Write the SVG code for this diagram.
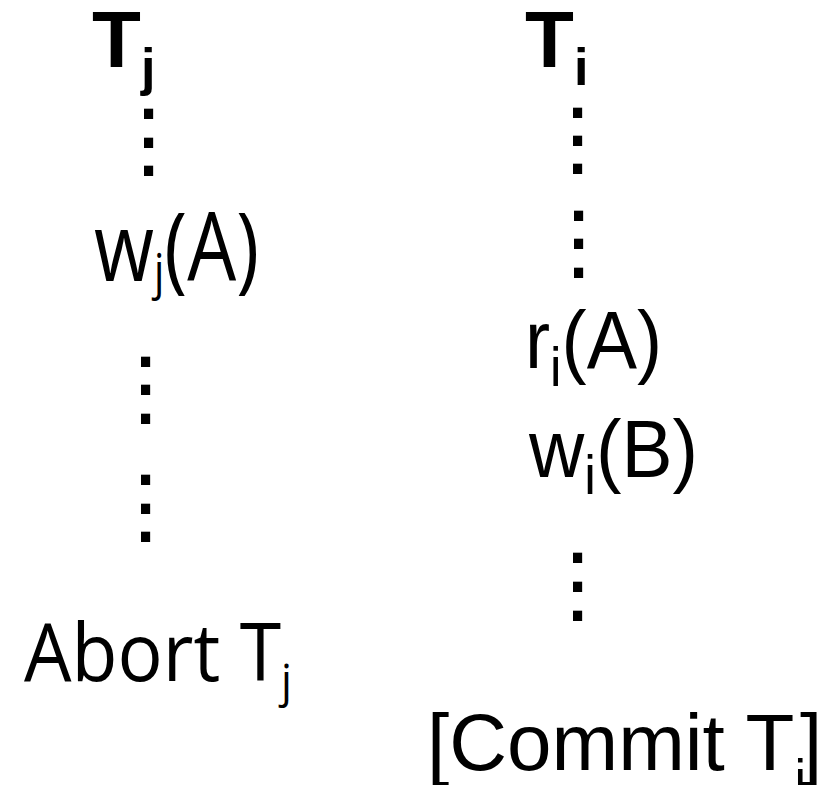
<svg xmlns="http://www.w3.org/2000/svg" width="828" height="785" viewBox="0 0 828 785">
<style>
  text { fill: #000; }
  .hd { font-family: "Liberation Sans", Arial, sans-serif; font-weight: bold; font-size: 80px; }
  .hs { font-size: 52px; }
  .lt { font-family: "Open Sans", "Liberation Sans", sans-serif; }
  .rt { font-family: "Liberation Sans", Arial, sans-serif; }
  .dot { font-family: "Liberation Sans", Arial, sans-serif; font-size: 96px; }
</style>
<rect width="828" height="785" fill="#fff"/>

<g id="tj-header"><text class="hd" x="92" y="67">T<tspan class="hs" dy="18">j</tspan></text></g>
<g id="ti-header"><text class="hd" x="525" y="67">T<tspan class="hs" dy="18">i</tspan></text></g>

<g id="tj-dots-1"><text class="dot"><tspan x="135.3" y="119">.</tspan><tspan x="135.3" y="147.5">.</tspan><tspan x="135.3" y="176">.</tspan></text></g>
<g id="wjA"><text class="lt" x="94" y="281" font-size="95" textLength="165" lengthAdjust="spacingAndGlyphs">w<tspan font-size="50" dy="8">j</tspan><tspan dy="-8">(A)</tspan></text></g>
<g id="tj-dots-2"><text class="dot"><tspan x="132.3" y="367">.</tspan><tspan x="132.3" y="395">.</tspan><tspan x="132.3" y="424">.</tspan></text></g>
<g id="tj-dots-3"><text class="dot"><tspan x="132.3" y="485">.</tspan><tspan x="132.3" y="514">.</tspan><tspan x="132.3" y="542">.</tspan></text></g>
<g id="abort"><text class="lt" x="24" y="681" font-size="80" textLength="268" lengthAdjust="spacingAndGlyphs">Abort T<tspan font-size="46" dy="16">j</tspan></text></g>

<g id="ti-dots-1"><text class="dot"><tspan x="564.3" y="118">.</tspan><tspan x="564.3" y="146">.</tspan><tspan x="564.3" y="174">.</tspan></text></g>
<g id="ti-dots-2"><text class="dot"><tspan x="565.3" y="221">.</tspan><tspan x="565.3" y="249">.</tspan><tspan x="565.3" y="278">.</tspan></text></g>
<g id="riA"><text class="rt" x="525" y="368" font-size="82" textLength="137" lengthAdjust="spacingAndGlyphs">r<tspan font-size="56" dy="18">i</tspan><tspan dy="-18">(A)</tspan></text></g>
<g id="wiB"><text class="rt" x="529" y="477" font-size="82" textLength="169" lengthAdjust="spacingAndGlyphs">w<tspan font-size="56" dy="17">i</tspan><tspan dy="-17">(B)</tspan></text></g>
<g id="ti-dots-3"><text class="dot"><tspan x="564.3" y="563">.</tspan><tspan x="564.3" y="592">.</tspan><tspan x="564.3" y="621">.</tspan></text></g>
<g id="commit"><text class="rt" x="427" y="770" font-size="80">[Commit T<tspan font-size="52" dy="26">i</tspan><tspan dy="-26" dx="-6">]</tspan></text></g>
</svg>
